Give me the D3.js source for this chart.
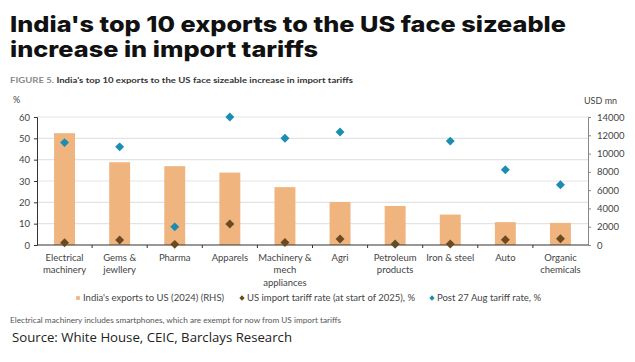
<!DOCTYPE html>
<html>
<head>
<meta charset="utf-8">
<script src="https://cdn.jsdelivr.net/npm/d3@7"></script>
<style>
  body { margin: 0; background: #fff; }
  svg { display: block; }
</style>
</head>
<body>
<svg id="chart" width="635" height="362"></svg>
<script>
const categories = [
  ['Electrical', 'machinery'],
  ['Gems &', 'jewllery'],
  ['Pharma'],
  ['Apparels'],
  ['Machinery &', 'mech', 'appliances'],
  ['Agri'],
  ['Petroleum', 'products'],
  ['Iron & steel'],
  ['Auto'],
  ['Organic', 'chemicals']
]
// USD mn, right axis
const exports2024 = [12230, 9050, 8620, 7920, 6330, 4700, 4270, 3330, 2500, 2420]
// %, left axis
const tariffStart2025 = [1.1, 2.3, 0.3, 9.8, 1.2, 2.8, 0.4, 0.5, 2.5, 2.9]
const tariffPostAug = [48, 46, 8.5, 60, 50, 53, 0.5, 48.7, 35.3, 28.2]
const leftTicks = [0, 10, 20, 30, 40, 50, 60]
const rightTicks = [0, 2000, 4000, 6000, 8000, 10000, 12000, 14000]

const svg = d3.select('#chart')
const plotLeft = 37, plotRight = 588, plotTop = 117, plotBottom = 245
const barColor = '#f0b47f', brown = '#6a4a1e', blue = '#1b8db3'

// title
const title = svg.append('g')
  .attr('font-family', 'Inter, "Open Sans", sans-serif')
  .attr('font-weight', 800)
  .attr('font-size', 22)
  .attr('fill', '#111')
title.append('text').attr('x', 10).attr('y', 32)
  .attr('textLength', 556).attr('lengthAdjust', 'spacingAndGlyphs')
  .text("India's top 10 exports to the US face sizeable")
title.append('text').attr('x', 10).attr('y', 57)
  .attr('textLength', 308).attr('lengthAdjust', 'spacingAndGlyphs')
  .text('increase in import tariffs')

let sub = svg.append('text')
  .attr('x', 10).attr('y', 83)
  .attr('font-family', 'Lato, sans-serif')
  .attr('font-size', 8.3)
  .attr('font-weight', 700)
  .attr('textLength', 343).attr('lengthAdjust', 'spacingAndGlyphs')
sub.append('tspan').attr('fill', '#8a8a8a').text('FIGURE 5. ')
sub.append('tspan').attr('fill', '#333').text("India's top 10 exports to the US face sizeable increase in import tariffs")

let x = d3.scaleBand()
  .domain(d3.range(categories.length))
  .range([plotLeft, plotRight])
  .paddingInner(0.62)
  .paddingOuter(0.31)
let yL = d3.scaleLinear().domain([0, 60]).range([plotBottom, plotTop])
let yR = d3.scaleLinear().domain([0, 14000]).range([plotBottom, plotTop])

let font = 'Lato, sans-serif'

// gridlines
svg.append('g')
  .selectAll('line')
  .data(leftTicks.slice(1))
  .join('line')
  .attr('x1', plotLeft).attr('x2', plotRight)
  .attr('y1', d => yL(d)).attr('y2', d => yL(d))
  .attr('stroke', '#e3e3e3').attr('stroke-width', 1.2)

// bars
svg.append('g')
  .selectAll('rect')
  .data(exports2024)
  .join('rect')
  .attr('x', (d, i) => x(i))
  .attr('width', x.bandwidth())
  .attr('y', d => yR(d))
  .attr('height', d => plotBottom - yR(d))
  .attr('fill', barColor)

// left axis
let axL = svg.append('g')
  .attr('transform', `translate(${plotLeft},0)`)
  .call(d3.axisLeft(yL).tickValues(leftTicks).tickSize(3).tickPadding(4))
axL.select('.domain').attr('stroke', '#333')
axL.selectAll('.tick line').attr('stroke', '#333')
axL.selectAll('text').attr('font-family', font).attr('font-size', 9.5).attr('fill', '#444')

// right axis
let axR = svg.append('g')
  .attr('transform', `translate(${plotRight},0)`)
  .call(d3.axisRight(yR).tickValues(rightTicks).tickSize(3).tickPadding(6).tickFormat(d3.format('d')))
axR.select('.domain').attr('stroke', '#888')
axR.selectAll('.tick line').attr('stroke', '#888')
axR.selectAll('text').attr('font-family', font).attr('font-size', 9.5).attr('fill', '#444')

svg.append('text').attr('x', 13).attr('y', 103)
  .attr('font-family', font).attr('font-size', 9).attr('fill', '#444').text('%')
svg.append('text').attr('x', 584).attr('y', 104)
  .attr('font-family', font).attr('font-size', 9).attr('fill', '#444').text('USD mn')

// x axis
svg.append('line')
  .attr('x1', plotLeft).attr('x2', plotRight)
  .attr('y1', plotBottom).attr('y2', plotBottom)
  .attr('stroke', '#333').attr('stroke-width', 1.2)
svg.append('g')
  .selectAll('line')
  .data(d3.range(1, categories.length))
  .join('line')
  .attr('x1', i => plotLeft + (plotRight - plotLeft) * i / categories.length)
  .attr('x2', i => plotLeft + (plotRight - plotLeft) * i / categories.length)
  .attr('y1', plotBottom).attr('y2', plotBottom + 3)
  .attr('stroke', '#333')

let xl = svg.append('g')
  .selectAll('text')
  .data(categories)
  .join('text')
  .attr('x', (d, i) => x(i) + x.bandwidth() / 2)
  .attr('y', 261)
  .attr('text-anchor', 'middle')
  .attr('font-family', font).attr('font-size', 9.5).attr('fill', '#444')
xl.selectAll('tspan')
  .data(d => d)
  .join('tspan')
  .attr('x', function () { return this.parentNode.getAttribute('x') })
  .attr('dy', (d, i) => i ? 12.3 : 0)
  .text(d => d)

// diamonds
let diamond = d3.symbol().type(d3.symbolSquare).size(40)
function drawDiamonds(values, color) {
  svg.append('g')
    .selectAll('path')
    .data(values)
    .join('path')
    .attr('d', diamond)
    .attr('transform', (d, i) => `translate(${x(i) + x.bandwidth() / 2},${yL(d)}) rotate(45)`)
    .attr('fill', color)
}
drawDiamonds(tariffPostAug, blue)
drawDiamonds(tariffStart2025, brown)

// legend
let legend = [
  { label: "India's exports to US (2024) (RHS)", color: barColor, shape: 'square', x: 78 },
  { label: 'US import tariff rate (at start of 2025), %', color: brown, shape: 'diamond', x: 242 },
  { label: 'Post 27 Aug tariff rate, %', color: blue, shape: 'diamond', x: 432 }
]
let lg = svg.append('g')
  .selectAll('g')
  .data(legend)
  .join('g')
  .attr('transform', d => `translate(${d.x},298)`)
lg.append('path')
  .attr('d', d3.symbol().type(d3.symbolSquare).size(14))
  .attr('transform', d => d.shape === 'diamond' ? 'rotate(45)' : null)
  .attr('fill', d => d.color)
lg.append('text')
  .attr('x', 5).attr('y', 3.3)
  .attr('font-family', font).attr('font-size', 9.5).attr('fill', '#444')
  .text(d => d.label)

svg.append('text').attr('x', 10).attr('y', 323)
  .attr('font-family', font).attr('font-size', 7.8).attr('fill', '#555')
  .attr('textLength', 331).attr('lengthAdjust', 'spacingAndGlyphs')
  .text('Electrical machinery includes smartphones, which are exempt for now from US import tariffs')

svg.append('text').attr('x', 12).attr('y', 342)
  .attr('font-family', '"Open Sans", sans-serif').attr('font-size', 13.2).attr('fill', '#222')
  .text('Source: White House, CEIC, Barclays Research')
</script>
</body>
</html>
